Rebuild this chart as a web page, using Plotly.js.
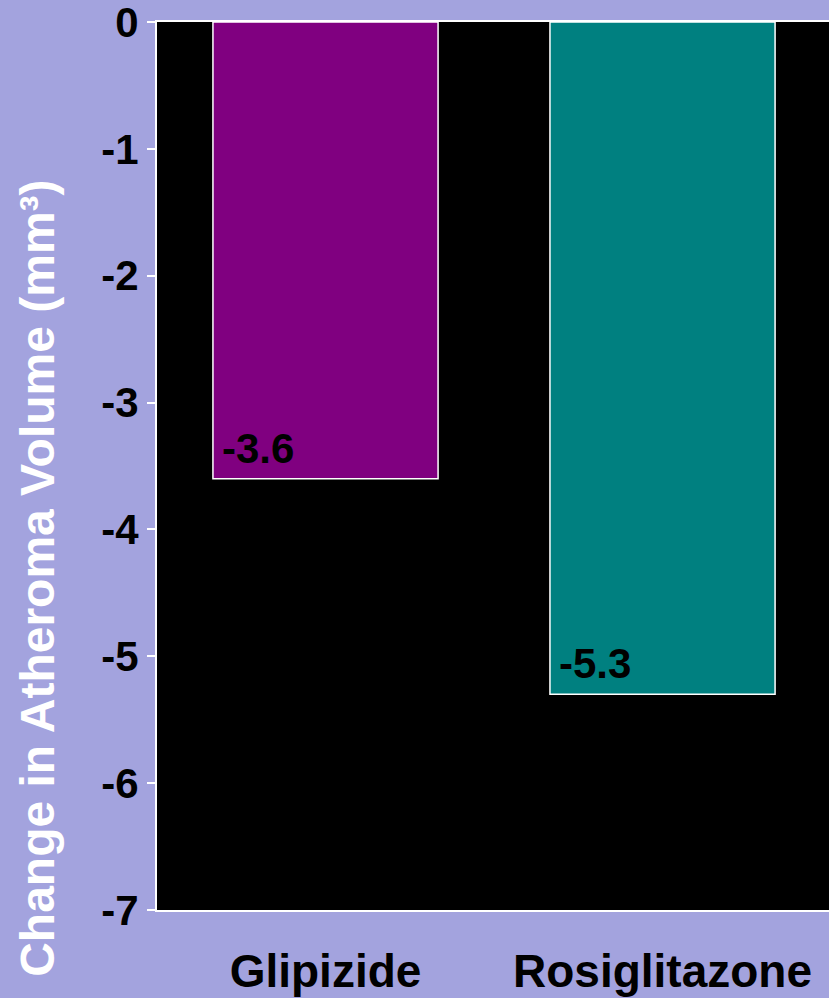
<!DOCTYPE html>
<html>
<head>
<meta charset="utf-8">
<script src="https://cdn.plot.ly/plotly-3.0.1.min.js"></script>
<style>html,body{margin:0;padding:0;background:#A3A3DE;}</style>
</head>
<body>
<div id="chart" style="width:829px;height:998px;"></div>
<script>
const categories = ["Glipizide", "Rosiglitazone"];
const values = [-3.6, -5.3];
const barLabels = ["-3.6", "-5.3"];
const barColors = ["#800080", "#008080"];
const yTickVals = [0, -1, -2, -3, -4, -5, -6, -7];
const yTickText = ["0", "-1", "-2", "-3", "-4", "-5", "-6", "-7"];
const yTitle = "Change in Atheroma Volume (mm³)";

const FONT = "Liberation Sans, Arial, sans-serif";
const barWidth = 0.668;
const idx = categories.map((c, i) => i);

const trace = {
  type: "bar",
  x: idx,
  y: values,
  width: barWidth,
  marker: { color: barColors, line: { color: "#FFFFFF", width: 1.5 } },
  hoverinfo: "none"
};

const annotations = values.map((v, i) => ({
  x: i - barWidth / 2, y: v, xref: "x", yref: "y",
  xanchor: "left", yanchor: "bottom", xshift: 7, yshift: 5,
  text: "<b>" + barLabels[i] + "</b>", showarrow: false,
  font: { family: FONT, size: 42, color: "#000000" }
}));
annotations.push({
  x: -0.177, y: 0.373, xref: "paper", yref: "paper",
  xanchor: "center", yanchor: "middle", textangle: -90,
  text: "<b>" + yTitle + "</b>", showarrow: false,
  font: { family: FONT, size: 48, color: "#FFFFFF" }
});

const layout = {
  width: 829, height: 998,
  margin: { l: 157, r: 0, t: 22, b: 88, pad: 0 },
  paper_bgcolor: "#A3A3DE",
  plot_bgcolor: "#000000",
  showlegend: false,
  xaxis: {
    range: [-0.5, 1.494],
    tickvals: idx, ticktext: categories.map(c => "<b>" + c + "</b>"),
    showgrid: false, zeroline: false,
    showline: true, mirror: true, linecolor: "#FFFFFF", linewidth: 2,
    ticks: "", ticklabelstandoff: 20, ticklabeloverflow: "allow",
    tickfont: { family: FONT, size: 46, color: "#000000" }
  },
  yaxis: {
    range: [-7, 0],
    tickvals: yTickVals, ticktext: yTickText.map(t => "<b>" + t + "</b>"),
    showgrid: false, zeroline: false,
    showline: true, linecolor: "#FFFFFF", linewidth: 2,
    ticks: "outside", ticklen: 8, tickwidth: 2, tickcolor: "#FFFFFF",
    ticklabeloverflow: "allow",
    tickfont: { family: FONT, size: 42, color: "#000000" }
  },
  annotations: annotations
};

Plotly.newPlot("chart", [trace], layout, { displayModeBar: false, staticPlot: true });
</script>
</body>
</html>
